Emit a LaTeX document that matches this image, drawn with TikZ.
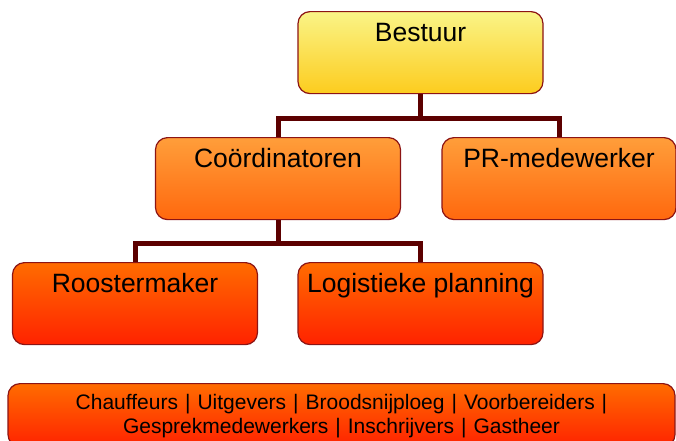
\documentclass[tikz,border=0pt]{standalone}
\usepackage{fontspec}
\setmainfont{Liberation Sans}
\definecolor{rand}{RGB}{140,20,20}
\definecolor{lijn}{RGB}{92,0,0}
\definecolor{geelboven}{RGB}{250,244,135}
\definecolor{geelonder}{RGB}{252,204,30}
\definecolor{oranjeboven}{RGB}{255,158,58}
\definecolor{oranjeonder}{RGB}{255,104,14}
\definecolor{roodboven}{RGB}{255,108,0}
\definecolor{roodonder}{RGB}{255,34,0}

\begin{document}
\begin{tikzpicture}[x=1pt,y=-1pt,
        box/.style={draw=rand,line width=1.2pt,rounded corners=12pt,anchor=north,
            minimum width=245pt,inner sep=0pt,text height=30pt,text depth=52pt,
            font=\fontsize{26.5}{30}\selectfont},
        geel/.style={box,top color=geelboven,bottom color=geelonder},
        oranje/.style={box,top color=oranjeboven,bottom color=oranjeonder},
        rood/.style={box,top color=roodboven,bottom color=roodonder},
        conn/.style={draw=lijn,line width=5pt}]
                        \useasboundingbox (0,0) rectangle (676,440);

                        \node[geel] (bestuur) at (420.5,11) {Bestuur};
                        \node[oranje] (coord) at (278,137) {Coördinatoren};
                        \node[oranje,minimum width=234pt] (pr) at (559,137) {PR-medewerker};
                        \node[rood] (rooster) at (135,262) {Roostermaker};
                        \node[rood] (logistiek) at (420.5,262) {Logistieke planning};

                        \node[rood,minimum width=667pt,text width=667pt,align=center,
                            text height=26pt,text depth=37pt,font=\fontsize{21}{24}\selectfont]
                            (vrijwilligers) at (341.5,383)
                            {Chauffeurs | Uitgevers | Broodsnijploeg | Voorbereiders |\\
                             Gesprekmedewerkers | Inschrijvers | Gastheer};

                        \draw[conn] (bestuur.south) -- ++(0,24) -| (coord.north);
                        \draw[conn] (bestuur.south) -- ++(0,24) -| (pr.north);
                        \draw[conn] (coord.south) -- ++(0,23) -| (rooster.north);
                        \draw[conn] (coord.south) -- ++(0,23) -| (logistiek.north);
                    \end{tikzpicture}
\end{document}
